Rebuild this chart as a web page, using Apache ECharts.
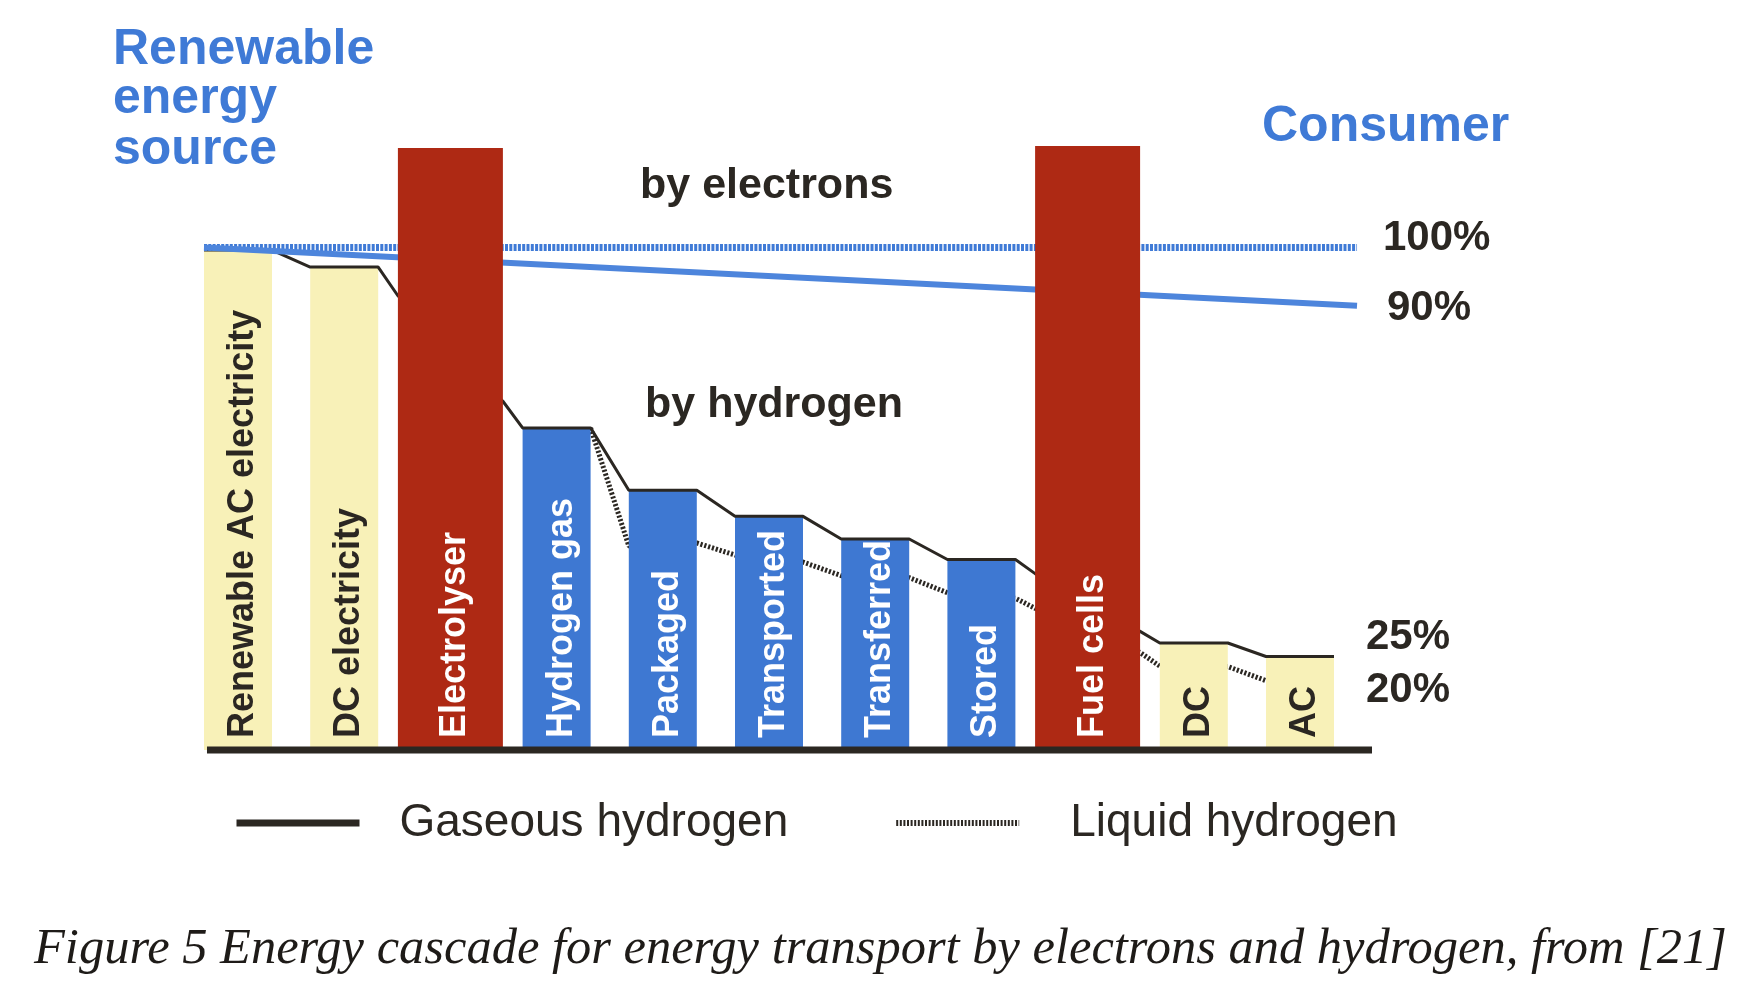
<!DOCTYPE html>
<html><head><meta charset="utf-8">
<script src="https://cdn.jsdelivr.net/npm/echarts@6/dist/echarts.min.js"></script>
<style>html,body{margin:0;padding:0;background:#fff}#c{width:1764px;height:1001px}</style>
</head><body><div id="c"></div>
<script>
// ---------------- data ----------------
const categories = ['Renewable AC electricity','DC electricity','Electrolyser','Hydrogen gas','Packaged','Transported','Transferred','Stored','Fuel cells','DC','AC'];
const stageType  = ['electricity','electricity','converter','hydrogen','hydrogen','hydrogen','hydrogen','hydrogen','converter','electricity','electricity'];
const barValues  = [99.5, 96.1, 119.8, 64.1, 51.7, 46.5, 42.0, 37.9, 120.2, 21.3, 18.6];
// level of the gaseous-hydrogen cascade at the left (in) and right (out) edge of each stage
const gaseousIn  = [99.5, 96.1, 90.4, 64.1, 51.7, 46.5, 42.0, 37.9, 35.1, 21.3, 18.6];
const gaseousOut = [99.5, 96.1, 69.4, 64.1, 51.7, 46.5, 42.0, 37.9, 23.6, 21.3, 18.6];
// liquid-hydrogen cascade
const liquidIn   = [null, null, null, null, 40.6, 38.8, 34.7, 31.3, 28.2, 16.7, 13.8];
const liquidOut  = [null, null, null, 64.1, 41.2, 37.4, 34.3, 30.2, 19.4, 16.6, 13.8];
// transport by electrons: source -> consumer
const electronReference = [100, 100];
const electronTransport = [100, 88.4];
const percentLabels = ['100%', '90%', '25%', '20%'];
const legendNames = ['Gaseous hydrogen', 'Liquid hydrogen'];
const sourceTitle = ['Renewable', 'energy', 'source'];
const consumerTitle = 'Consumer';
const routeLabels = ['by electrons', 'by hydrogen'];
const caption = 'Figure 5 Energy cascade for energy transport by electrons and hydrogen, from [21]';

// ---------------- layout / style ----------------
const band = 106.2;
const gridLeft = 238 - band / 2;
const gridWidth = band * categories.length;
const pad = 60;                       // extra room of the line grid on both sides (px)
const padU = pad / band;
const baseY = 750, pxPerPct = 5.025, yMax = 130;
const gridTop = baseY - yMax * pxPerPct;
const barW = { electricity: 68, hydrogen: 68, converter: 105 };
const colors = { electricity: '#f8f1b8', hydrogen: '#3e78d2', converter: '#ae2914' };
const labelColors = { electricity: '#2b2722', hydrogen: '#ffffff', converter: '#ffffff' };
const dark = '#2b2722', blue = '#3f7ad6';
const SANS = '"Liberation Sans", Arial, sans-serif';
const half = i => barW[stageType[i]] / 2 / band;
const sourceX = -half(0);
const consumerX = categories.length - 0.463;
const axisStart = -0.292, axisEnd = categories.length - 0.322;

const gasData = [];
categories.forEach((c, i) => { gasData.push([i - half(i), gaseousIn[i]], [i + half(i), gaseousOut[i]]); });
const liqData = [];
categories.forEach((c, i) => {
  if (liquidIn[i] != null) liqData.push([i - half(i), liquidIn[i]]);
  if (liquidOut[i] != null) liqData.push([i + half(i), liquidOut[i]]);
});

function barData(isConv) {
  return barValues.map((v, i) => {
    const t = stageType[i];
    if ((t === 'converter') !== isConv) return '-';
    return { value: v, itemStyle: { color: colors[t] }, label: { color: labelColors[t] } };
  });
}
const barLabel = {
  show: true, position: 'bottom', distance: -12, rotate: 90, align: 'left', verticalAlign: 'middle',
  offset: [0, 5], overflow: 'none',
  formatter: '{b}', fontSize: 36, fontWeight: 'bold', fontFamily: SANS
};

// caption font size fitted to the reference width
const ctx = document.createElement('canvas').getContext('2d');
ctx.font = 'italic 50px "Liberation Serif"';
const capFs = Math.max(30, Math.min(60, 50 * 1693 / ctx.measureText(caption).width));

function txt(text, x, yMid, size, color, weight, family, style) {
  return { type: 'text', x: x, y: yMid, silent: true,
    style: { text: text, fill: color, font: (style || 'normal') + ' ' + (weight || 'bold') + ' ' + size + 'px ' + (family || SANS),
      align: 'left', verticalAlign: 'middle', textAlign: 'left', textVerticalAlign: 'middle' } };
}
function lineSeries(name, z, data, lineStyle) {
  return { name: name, type: 'line', xAxisIndex: 1, yAxisIndex: 1, z: z, symbol: 'none', clip: false,
    data: data, lineStyle: lineStyle, itemStyle: { color: lineStyle.color }, emphasis: { disabled: true } };
}

const chart = echarts.init(document.getElementById('c'), null, { renderer: 'canvas' });
chart.setOption({
  animation: false,
  backgroundColor: '#ffffff',
  grid: [
    { left: gridLeft, top: gridTop, width: gridWidth, height: baseY - gridTop },
    { left: gridLeft - pad, top: gridTop, width: gridWidth + 2 * pad, height: baseY - gridTop }
  ],
  xAxis: [
    { type: 'category', gridIndex: 0, data: categories, show: false },
    { type: 'value', gridIndex: 1, min: -0.5 - padU, max: categories.length - 0.5 + padU, show: false },
    { type: 'category', gridIndex: 0, data: categories, show: false }
  ],
  yAxis: [
    { type: 'value', gridIndex: 0, min: 0, max: yMax, show: false },
    { type: 'value', gridIndex: 1, min: 0, max: yMax, show: false }
  ],
  legend: {
    left: 228, top: 795, itemWidth: 123, itemHeight: 12, itemGap: 105, selectedMode: false,
    itemStyle: { opacity: 0 },
    textStyle: { fontSize: 46, color: dark, fontFamily: SANS, padding: [0, 0, 0, 35] },
    data: [
      { name: legendNames[0], itemStyle: { opacity: 0 }, lineStyle: { width: 7, color: dark, type: 'solid', opacity: 1 } },
      { name: legendNames[1], itemStyle: { opacity: 0 }, lineStyle: { width: 6, color: dark, type: [2, 1.6], opacity: 1 },
        textStyle: { fontSize: 46, color: dark, fontFamily: SANS, padding: [0, 0, 0, 46] } }
    ]
  },
  series: [
    { name: 'stages', type: 'bar', xAxisIndex: 0, yAxisIndex: 0, barWidth: barW.hydrogen, z: 2, data: barData(false), label: barLabel, emphasis: { disabled: true } },
    { name: 'converters', type: 'bar', xAxisIndex: 2, yAxisIndex: 0, barWidth: barW.converter, z: 5, data: barData(true), label: barLabel, emphasis: { disabled: true } },
    lineSeries(legendNames[1], 1, liqData, { color: dark, width: 5, type: [2.2, 1.8] }),
    lineSeries(legendNames[0], 3, gasData, { color: dark, width: 3 }),
    lineSeries('electrons reference', 3, [[sourceX, electronReference[0]], [consumerX, electronReference[1]]], { color: blue, width: 7, type: [3, 1.3] }),
    lineSeries('electrons', 3, [[sourceX, electronTransport[0]], [consumerX, electronTransport[1]]], { color: '#4d85dc', width: 6 }),
    lineSeries('baseline', 6, [[axisStart, 0], [axisEnd, 0]], { color: dark, width: 7 })
  ],
  graphic: [
    txt(sourceTitle[0], 113, 50.5, 50, blue),
    txt(sourceTitle[1], 113, 99.5, 50, blue),
    txt(sourceTitle[2], 113, 150.5, 50, blue),
    txt(consumerTitle, 1262, 127.5, 50, blue),
    txt(routeLabels[0], 640, 186.5, 43, dark),
    txt(routeLabels[1], 645, 405, 43, dark),
    txt(percentLabels[0], 1383, 238.5, 42, dark),
    txt(percentLabels[1], 1387, 308, 42, dark),
    txt(percentLabels[2], 1366, 637.5, 42, dark),
    txt(percentLabels[3], 1366, 690.5, 42, dark),
    txt(caption, 34, 967 - 0.3375 * capFs, capFs, '#1e1b18', 'normal', '"Liberation Serif", serif', 'italic')
  ]
});
</script></body></html>
